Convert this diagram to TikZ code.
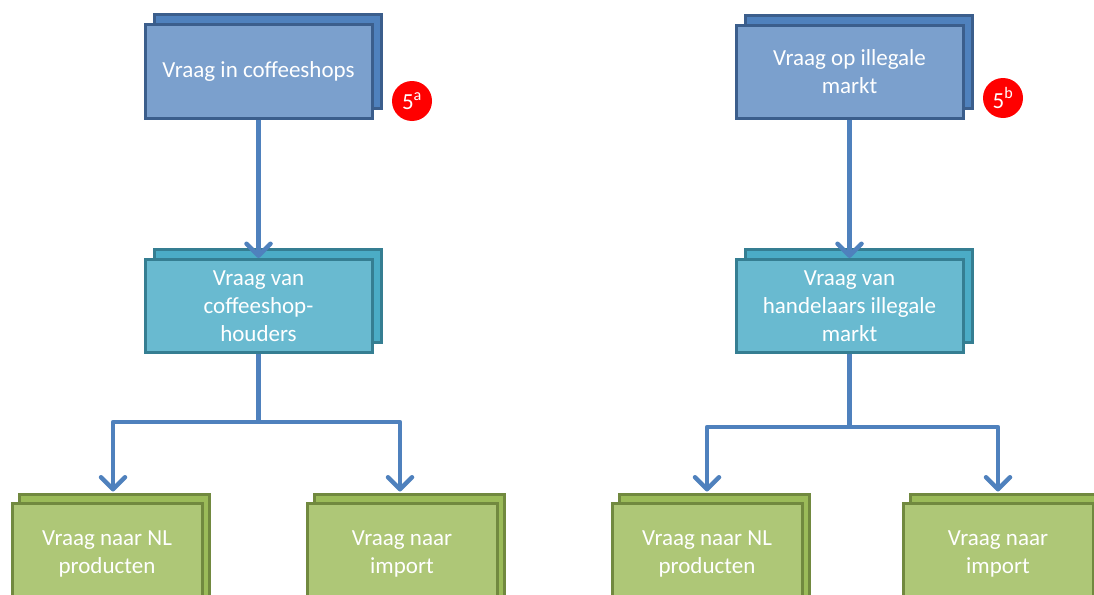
\documentclass[tikz,border=0pt]{standalone}
\usepackage{fontspec}
\setmainfont{Carlito}
\usepackage{xcolor}
\usetikzlibrary{shadows,arrows.meta}
\definecolor{topfill}{HTML}{7BA0CD}
\definecolor{topback}{HTML}{4F81BD}
\definecolor{topline}{HTML}{3B5E8C}
\definecolor{midfill}{HTML}{69BAD0}
\definecolor{midback}{HTML}{4BACC6}
\definecolor{midline}{HTML}{357E92}
\definecolor{botfill}{HTML}{AEC777}
\definecolor{botback}{HTML}{9BBB59}
\definecolor{botline}{HTML}{71893F}
\definecolor{connblue}{HTML}{4F81BD}

\begin{document}
\begin{tikzpicture}[x=1pt,y=-1pt,
    >={Straight Barb[length=12pt,width=24pt,round]},
    conn/.style={connblue,line width=4.5pt,line join=round},
    card/.style 2 args={draw=#2,fill=#1,line width=3pt,text=white,
        align=center,font=\fontsize{23}{28}\selectfont},
    topcard/.style={card={topfill}{topline},
        copy shadow={shadow xshift=9pt,shadow yshift=10pt,
            fill=topback,draw=topline,line width=3pt},
        minimum width=227pt,minimum height=93pt},
    midcard/.style={card={midfill}{midline},
        copy shadow={shadow xshift=9pt,shadow yshift=10pt,
            fill=midback,draw=midline,line width=3pt},
        minimum width=227pt,minimum height=93pt},
    botcard/.style={card={botfill}{botline},
        copy shadow={shadow xshift=7pt,shadow yshift=9pt,
            fill=botback,draw=botline,line width=3pt},
        minimum width=190pt,minimum height=102pt},
    badge/.style={circle,fill=red,text=white,inner sep=0pt,
        minimum size=40pt,font=\fontsize{23}{26}\selectfont}]
    \useasboundingbox (0,0) rectangle (1094,594);

    % coffeeshop side
    \node[topcard] (coffee) at (258.5,71.5) {Vraag in coffeeshops};
    \node[badge] (badgea) at (412,101) {5\textsuperscript{a}};
    \node[midcard] (cshouders) at (258.5,306) {Vraag van\\coffeeshop-\\houders};
    \node[botcard] (lnl) at (107,554) {Vraag naar NL\\producten};
    \node[botcard] (limp) at (402,554) {Vraag naar\\import};

    % illegal market side
    \node[topcard] (illegal) at (849.5,72) {Vraag op illegale\\markt};
    \node[badge] (badgeb) at (1003,98) {5\textsuperscript{b}};
    \node[midcard] (handelaars) at (849.5,306) {Vraag van\\handelaars illegale\\markt};
    \node[botcard] (rnl) at (707,554) {Vraag naar NL\\producten};
    \node[botcard] (rimp) at (998,554) {Vraag naar\\import};

    \coordinate (lsplit) at (258.5,422);
    \coordinate (rsplit) at (849.5,427);
    \draw[conn,->] (coffee.south) -- (cshouders.north);
    \draw[conn] (cshouders.south) -- (lsplit);
    \draw[conn,->,shorten >=10pt] (lsplit) -| ([xshift=6pt]lnl.north);
    \draw[conn,->,shorten >=10pt] (lsplit) -| ([xshift=-2pt]limp.north);
    \draw[conn,->] (illegal.south) -- (handelaars.north);
    \draw[conn] (handelaars.south) -- (rsplit);
    \draw[conn,->,shorten >=10pt] (rsplit) -| (rnl.north);
    \draw[conn,->,shorten >=10pt] (rsplit) -| (rimp.north);
\end{tikzpicture}
\end{document}
